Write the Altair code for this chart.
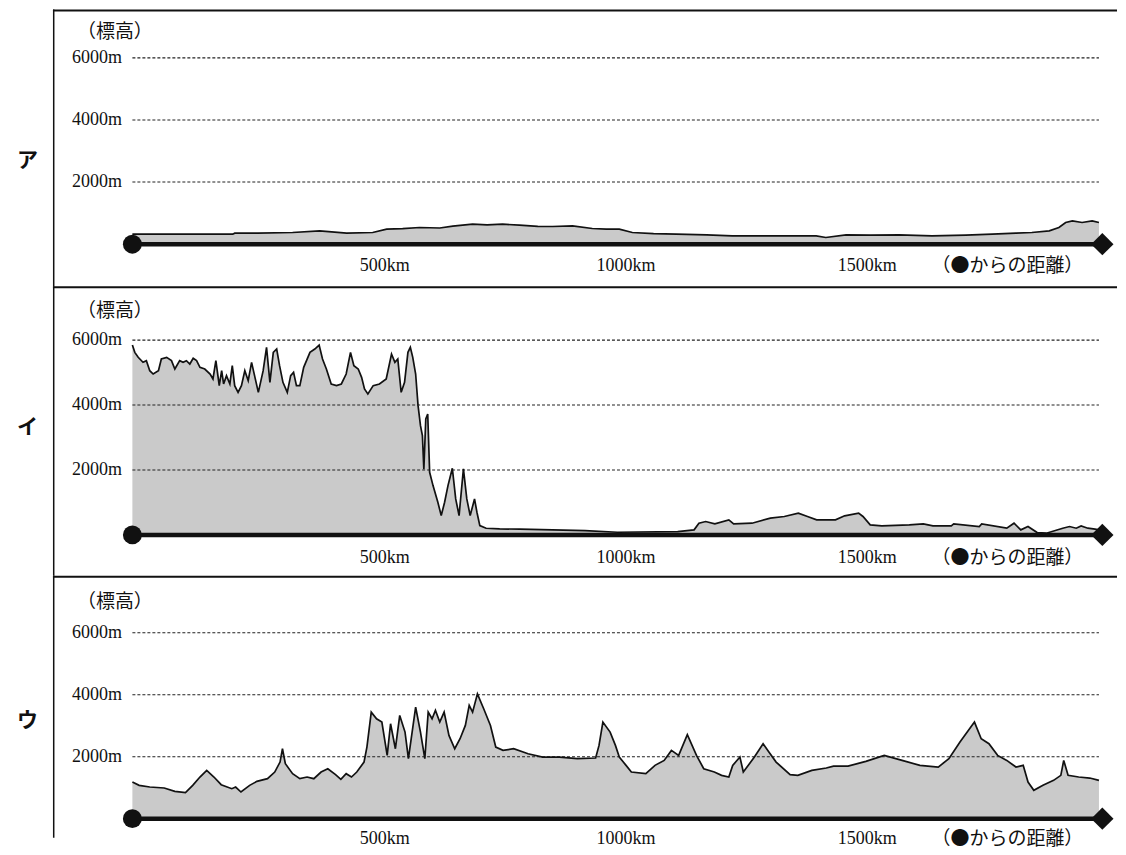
import altair as alt
import pandas as pd

# ---------------- data ----------------
ROUTE_KM = 2010          # distance of the ◆ end point from ●
GRID_END_KM = 2003
GRID_VALUES = [2000, 4000, 6000]
GRID_LABELS = ["2000m", "4000m", "6000m"]
TICK_KM = [500, 1000, 1500]
TICK_LABELS = ["500km", "1000km", "1500km"]
PANEL_NAMES = ["ア", "イ", "ウ"]
Y_TITLE = "（標高）"
X_NOTE = "（●からの距離）"

# ア
A_KM = [0, 208, 212, 260, 332, 388, 444, 498, 527, 560,
        595, 637, 664, 705, 735, 767, 802, 840, 871, 912,
        953, 982, 1009, 1036, 1080, 1127, 1190, 1243, 1330, 1417,
        1437, 1479, 1530, 1589, 1657, 1727, 1782, 1831, 1864, 1900,
        1920, 1934, 1948, 1968, 1989, 2003]
A_M = [322, 322, 354, 354, 376, 428, 354, 376, 483, 500,
       537, 520, 579, 643, 620, 643, 611, 570, 569, 590,
       505, 483, 483, 376, 340, 322, 300, 267, 267, 267,
       215, 299, 290, 299, 270, 290, 322, 354, 376, 428,
       537, 698, 750, 698, 750, 698]

# イ
I_KM = [0, 5, 12, 22, 29, 36, 43, 54, 60, 71,
        81, 88, 98, 105, 112, 119, 126, 133, 140, 150,
        161, 167, 173, 180, 185, 189, 195, 202, 207, 212,
        219, 226, 233, 240, 247, 254, 261, 271, 278, 285,
        292, 299, 305, 312, 321, 328, 334, 340, 347, 355,
        368, 378, 387, 394, 402, 412, 423, 433, 443, 452,
        459, 468, 475, 481, 488, 499, 512, 526, 537, 544,
        550, 557, 564, 571, 576, 581, 587, 592, 597, 601,
        604, 608, 612, 616, 623, 633, 640, 647, 654, 663,
        670, 677, 686, 693, 700, 709, 714, 720, 733, 761,
        803, 938, 1005, 1130, 1164, 1174, 1188, 1207, 1236, 1246,
        1284, 1322, 1351, 1380, 1399, 1418, 1457, 1476, 1505, 1514,
        1529, 1553, 1610, 1639, 1659, 1697, 1702, 1755, 1760, 1812,
        1827, 1841, 1856, 1875, 1894, 1928, 1942, 1956, 1966, 1980,
        1995, 2003]
I_M = [5848, 5622, 5469, 5315, 5366, 5058, 4955, 5058, 5417, 5469,
       5366, 5109, 5366, 5315, 5366, 5263, 5438, 5366, 5161, 5109,
       4955, 4802, 5366, 4597, 5058, 4648, 4904, 4648, 5212, 4597,
       4391, 4597, 5058, 4750, 5315, 4853, 4391, 5058, 5776, 4699,
       5622, 5725, 5212, 4699, 4391, 4904, 5007, 4597, 4597, 5161,
       5622, 5725, 5848, 5417, 5109, 4648, 4597, 4648, 4955, 5622,
       5212, 5109, 4853, 4494, 4340, 4597, 4648, 4802, 5571, 5315,
       5417, 4391, 4699, 5622, 5776, 5469, 4955, 3981, 3365, 3057,
       2026, 3570, 3724, 1929, 1518, 1005, 595, 1005, 1518, 2052,
       1108, 595, 2031, 1108, 595, 1108, 698, 287, 205, 185,
       175, 134, 82, 103, 155, 360, 412, 340, 464, 340,
       360, 515, 567, 670, 567, 464, 464, 587, 670, 567,
       309, 278, 309, 340, 278, 278, 340, 258, 340, 206,
       360, 155, 258, 72, 52, 206, 258, 206, 278, 206,
       175, 155]

# ウ
U_KM = [0, 14, 36, 66, 88, 110, 125, 140, 154, 169,
        184, 206, 214, 225, 243, 258, 280, 295, 306, 311,
        317, 332, 347, 362, 376, 391, 405, 421, 432, 443,
        454, 465, 480, 486, 495, 506, 517, 528, 535, 545,
        554, 565, 572, 587, 597, 606, 613, 621, 628, 637,
        646, 656, 668, 679, 690, 698, 705, 715, 728, 742,
        753, 768, 790, 820, 850, 885, 922, 960, 967, 975,
        990, 1001, 1009, 1023, 1034, 1064, 1083, 1102, 1117, 1132,
        1150, 1169, 1184, 1206, 1221, 1236, 1244, 1259, 1266, 1289,
        1307, 1319, 1334, 1363, 1379, 1408, 1438, 1453, 1483, 1520,
        1558, 1595, 1632, 1670, 1692, 1715, 1745, 1759, 1775, 1793,
        1812, 1831, 1846, 1856, 1868, 1887, 1909, 1924, 1930, 1939,
        1961, 1984, 2003]
U_M = [1183, 1075, 1021, 989, 881, 838, 1075, 1344, 1559, 1344,
       1096, 967, 1021, 860, 1075, 1204, 1290, 1505, 1827, 2257,
       1773, 1451, 1290, 1344, 1290, 1505, 1612, 1419, 1268, 1451,
       1344, 1505, 1827, 2311, 3440, 3225, 3118, 2043, 3064, 2258,
       3333, 2795, 1935, 3601, 2795, 1935, 3440, 3225, 3494, 3118,
       3440, 2688, 2258, 2580, 3010, 3655, 3440, 4031, 3548, 3010,
       2311, 2204, 2258, 2096, 1989, 1989, 1935, 1957, 2365, 3118,
       2795, 2365, 1989, 1720, 1505, 1451, 1720, 1881, 2204, 2043,
       2709, 2043, 1612, 1505, 1398, 1344, 1720, 1989, 1505, 1989,
       2419, 2150, 1827, 1419, 1398, 1559, 1634, 1698, 1698, 1849,
       2043, 1881, 1720, 1666, 1935, 2473, 3118, 2580, 2419, 2043,
       1881, 1666, 1720, 1183, 914, 1075, 1236, 1398, 1881, 1398,
       1344, 1311, 1236]

# ---------------- layout / style ----------------
W = 1065
X_DOMAIN = [-164.6, 2040.4]
SERIF = "'Liberation Serif', 'DejaVu Serif', serif"
JP = "'Noto Sans CJK JP', sans-serif"
INK = "#111111"

PANELS = [
    dict(name=PANEL_NAMES[0], km=A_KM, m=A_M, H=277, ydom=[-1351, 7560],
         title_y=22.5, xlab_y=256.5, name_y=152),
    dict(name=PANEL_NAMES[1], km=I_KM, m=I_M, H=290, ydom=[-1262, 7662],
         title_y=24.5, xlab_y=272.5, name_y=142.5),
    dict(name=PANEL_NAMES[2], km=U_KM, m=U_M, H=262, ydom=[-613, 7839],
         title_y=26.5, xlab_y=263, name_y=145),
]


def panel(name, km, m, H, ydom, title_y, xlab_y, name_y):
    xs = alt.Scale(domain=X_DOMAIN, nice=False, zero=False)
    ys = alt.Scale(domain=ydom, nice=False, zero=False)

    def X(f):
        return alt.X(f, type="quantitative", scale=xs, axis=None)

    def Y(f):
        return alt.Y(f, type="quantitative", scale=ys, axis=None)

    prof = pd.DataFrame({"km": km, "m": m})
    grid = pd.DataFrame({"v": GRID_VALUES, "label": GRID_LABELS,
                         "x0": [0] * 3, "x1": [GRID_END_KM] * 3})
    base = pd.DataFrame({"x0": [0], "x1": [ROUTE_KM], "y": [0]})
    start = pd.DataFrame({"km": [0], "m": [0]})
    end = pd.DataFrame({"km": [ROUTE_KM], "m": [0]})
    ticks = pd.DataFrame({"km": TICK_KM, "label": TICK_LABELS})
    one = pd.DataFrame({"t": [name], "yt": [Y_TITLE], "note": [X_NOTE],
                        "km": [ROUTE_KM]})

    frame_top = alt.Chart(one).mark_rule(color=INK, strokeWidth=2).encode(
        x=alt.value(0), x2=alt.value(W), y=alt.value(1))
    frame_left = alt.Chart(one).mark_rule(color=INK, strokeWidth=1.5).encode(
        x=alt.value(0.75), y=alt.value(0), y2=alt.value(H))

    area = alt.Chart(prof).mark_area(color="#cacaca", opacity=1).encode(
        x=X("km"), y=Y("m"), y2=alt.datum(0))
    line = alt.Chart(prof).mark_line(color=INK, strokeWidth=1.7).encode(
        x=X("km"), y=Y("m"))

    gridlines = alt.Chart(grid).mark_rule(
        color="#222222", strokeWidth=1.1, strokeDash=[3, 2]).encode(
        x=X("x0"), x2="x1:Q", y=Y("v"))

    baseline = alt.Chart(base).mark_rule(color=INK, strokeWidth=4.5).encode(
        x=X("x0"), x2="x1:Q", y=Y("y"))
    start_pt = alt.Chart(start).mark_point(
        shape="circle", filled=True, color=INK, size=360, opacity=1).encode(
        x=X("km"), y=Y("m"))
    end_pt = alt.Chart(end).mark_point(
        shape="diamond", filled=True, color=INK, size=500, opacity=1).encode(
        x=X("km"), y=Y("m"))

    ylabels = alt.Chart(grid).mark_text(
        align="right", baseline="middle", font=SERIF, fontSize=18,
        color=INK).encode(x=alt.value(69), y=Y("v"), text="label:N")
    ytitle = alt.Chart(one).mark_text(
        align="center", baseline="middle", font=JP, fontSize=19,
        color=INK).encode(x=alt.value(62), y=alt.value(title_y), text="yt:N")
    xlabels = alt.Chart(ticks).mark_text(
        align="center", baseline="middle", font=SERIF, fontSize=18, dx=11,
        color=INK).encode(x=X("km"), y=alt.value(xlab_y), text="label:N")
    xnote = alt.Chart(one).mark_text(
        align="right", baseline="middle", font=JP, fontSize=19, dx=-19,
        color=INK).encode(x=X("km"), y=alt.value(xlab_y), text="note:N")
    pname = alt.Chart(one).mark_text(
        align="left", baseline="middle", font=JP, fontSize=21,
        fontWeight="bold", color=INK).encode(
        x=alt.value(-36), y=alt.value(name_y), text="t:N")

    return alt.layer(
        area, gridlines, line, baseline, start_pt, end_pt,
        ylabels, ytitle, xlabels, xnote, pname, frame_top, frame_left,
    ).properties(width=W, height=H)


chart = alt.vconcat(
    *[panel(**p) for p in PANELS], spacing=0, bounds="flush"
).configure_view(stroke=None).properties(
    padding={"left": 9, "top": 0, "right": 0, "bottom": 0})

chart.save("out.html", embed_options={"renderer": "svg", "actions": False})
